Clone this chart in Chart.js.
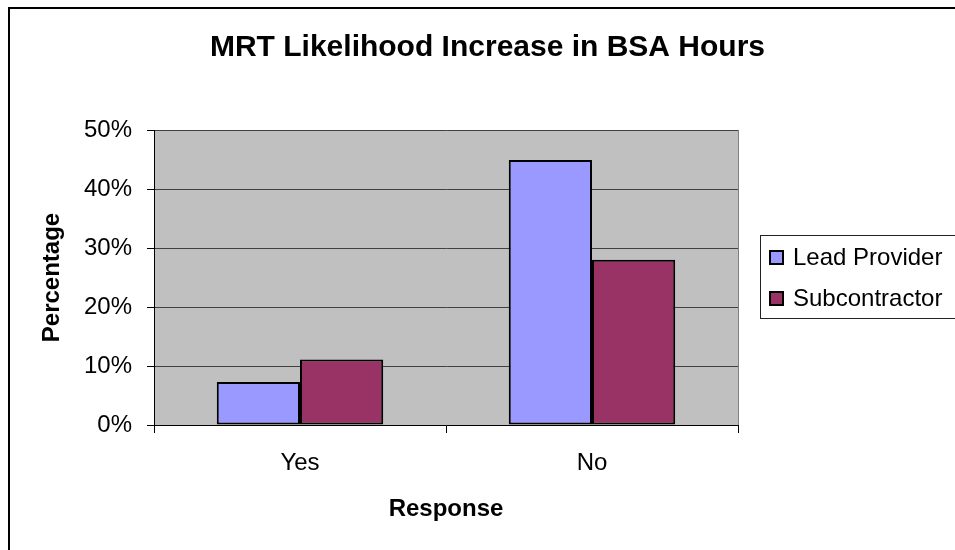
<!DOCTYPE html>
<html>
<head>
<meta charset="utf-8">
<script src="https://cdn.jsdelivr.net/npm/chart.js@4/dist/chart.umd.min.js"></script>
<style>
  html, body { margin: 0; padding: 0; background: #fff; }
  #wrap { width: 955px; height: 550px; }
</style>
</head>
<body>
<div id="wrap"><canvas id="likelihoodChart" width="955" height="550"></canvas></div>
<script>
  // data (percent)
  const responses = ['Yes', 'No'];
  const leadProvider = [7.3, 44.9];
  const subcontractor = [11.1, 28.0];
  const yTicks = [0, 10, 20, 30, 40, 50];

  const FONT = '"Liberation Sans", Arial, sans-serif';

  // grey plot area, outer frame and the boxed legend
  const excelLook = {
    id: 'excelLook',
    beforeDraw(chart) {
      const { ctx, chartArea: a } = chart;
      ctx.save();
      ctx.fillStyle = '#C0C0C0';
      ctx.fillRect(a.left, a.top, a.right - a.left, a.bottom - a.top);
      ctx.restore();
    },
    afterDraw(chart) {
      const { ctx, chartArea: a } = chart;
      ctx.save();
      // right edge of the plot
      ctx.strokeStyle = '#808080';
      ctx.lineWidth = 1;
      ctx.beginPath();
      ctx.moveTo(a.right + 0.5, a.top);
      ctx.lineTo(a.right + 0.5, a.bottom);
      ctx.stroke();

      // outer chart frame (runs off the right and bottom)
      ctx.strokeStyle = '#000';
      ctx.lineWidth = 2;
      ctx.strokeRect(9, 8, 1000, 600);

      // legend
      ctx.lineWidth = 1;
      ctx.strokeStyle = '#222';
      ctx.strokeRect(760.5, 235.5, 220, 83);
      ctx.font = '24px ' + FONT;
      ctx.textBaseline = 'middle';
      ctx.textAlign = 'left';
      const rows = [257, 298];
      chart.data.datasets.forEach((ds, i) => {
        const y = rows[i];
        ctx.fillStyle = ds.backgroundColor;
        ctx.fillRect(770, y - 6, 13, 13);
        ctx.lineWidth = 2;
        ctx.strokeStyle = '#000';
        ctx.strokeRect(770, y - 6, 13, 13);
        ctx.fillStyle = '#000';
        ctx.fillText(ds.label, 793, y + 1);
      });
      ctx.restore();
    }
  };

  const ctx = document.getElementById('likelihoodChart');

  new Chart(ctx, {
    type: 'bar',
    data: {
      labels: responses,
      datasets: [{
        label: 'Lead Provider',
        data: leadProvider,
        backgroundColor: '#9999FF',
        borderColor: '#000',
        borderWidth: 2,
        borderSkipped: false,
        yAxisID: 'y'
      }, {
        label: 'Subcontractor',
        data: subcontractor,
        backgroundColor: '#993366',
        borderColor: '#000',
        borderWidth: 2,
        borderSkipped: false,
        yAxisID: 'y'
      }]
    },
    options: {
      responsive: false,
      animation: false,
      categoryPercentage: 0.57,
      barPercentage: 1,
      layout: {
        padding: { left: 20, right: 0, top: 0, bottom: 0 }
      },
      plugins: {
        legend: { display: false },
        tooltip: { enabled: false },
        title: {
          display: true,
          text: 'MRT Likelihood Increase in BSA Hours',
          color: '#000',
          font: { family: FONT, size: 30, weight: 'bold', lineHeight: 1.2 },
          padding: { top: 30, bottom: 64 }
        }
      },
      scales: {
        x: {
          grid: {
            drawOnChartArea: false,
            offset: true,
            tickLength: 8,
            color: '#000'
          },
          border: { color: '#000', width: 1 },
          ticks: {
            color: '#000',
            padding: 16,
            font: { family: FONT, size: 24, lineHeight: 1.2 }
          },
          title: {
            display: true,
            text: 'Response',
            color: '#000',
            font: { family: FONT, size: 24, weight: 'bold', lineHeight: 1.2 },
            padding: { top: 0, bottom: 26 }
          },
          afterFit(scale) { scale.height = 125; }
        },
        y: {
          min: 0,
          max: 50,
          afterBuildTicks(scale) {
            scale.ticks = yTicks.map(v => ({ value: v }));
          },
          grid: {
            color: '#404040',
            tickColor: '#000',
            tickLength: 7
          },
          border: { color: '#000', width: 1 },
          ticks: {
            color: '#000',
            padding: 15,
            font: { family: FONT, size: 24 },
            callback: v => v + '%'
          },
          title: {
            display: true,
            text: 'Percentage',
            color: '#000',
            font: { family: FONT, size: 24, weight: 'bold', lineHeight: 1.2 },
            padding: { top: 18, bottom: 0 }
          },
          afterFit(scale) { scale.width = 134; }
        },
        // empty right-hand axis that holds room for the legend
        legendRoom: {
          type: 'linear',
          position: 'right',
          grid: { display: false },
          border: { display: false },
          ticks: { display: false },
          afterFit(scale) { scale.width = 217; }
        }
      }
    },
    plugins: [excelLook]
  });
</script>
</body>
</html>
